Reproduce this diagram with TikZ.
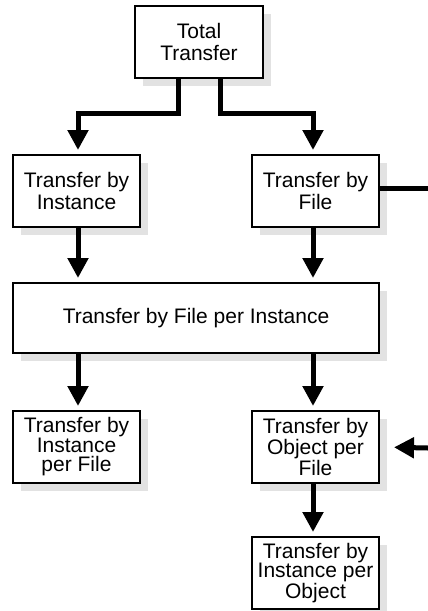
\documentclass[tikz,border=0pt]{standalone}
\usepackage{fontspec}
\setmainfont{Liberation Sans}
\usetikzlibrary{arrows.meta,calc}
\definecolor{shadowgray}{HTML}{E2E2E2}
\begin{document}
\begin{tikzpicture}[x=1pt,y=1pt,
  box/.style={draw=black,line width=2pt,fill=white,align=center,inner sep=0pt,
    minimum width=127pt,minimum height=72pt,
    font=\fontsize{21}{21.5}\selectfont},
  tallbox/.style={box,font=\fontsize{21}{19.5}\selectfont},
  conn/.style={line width=5pt,-{Triangle[width=20pt,length=20pt]},shorten >=4pt},
  plain/.style={line width=5pt}]
\useasboundingbox (0,0) rectangle (428,-611);
% shadows
\foreach \cx/\cy/\w/\h in {199/-42/128/72, 76.5/-191/127/72, 315.5/-191/127/72, 196/-318/366/70, 76.5/-447/127/72, 315.5/-447/127/72, 315.5/-573/127/72}{
  \fill[shadowgray] (\cx-\w/2+8,\cy-\h/2-8) rectangle (\cx+\w/2+8,\cy+\h/2-8);
}
\node[box,minimum width=128pt] (tot) at (199,-42) {Total\\Transfer};
\node[box] (inst) at (76.5,-191) {Transfer by\\Instance};
\node[box] (file) at (315.5,-191) {Transfer by\\File};
\node[box,minimum width=366pt,minimum height=70pt] (fpi) at (196,-318) {Transfer by File per Instance};
\node[tallbox] (ipf) at (76.5,-447) {Transfer by\\Instance\\per File};
\node[tallbox] (opf) at (315.5,-447) {Transfer by\\Object per\\File};
\node[tallbox] (ipo) at (315.5,-573) {Transfer by\\Instance per\\Object};
\coordinate (outR) at (428,-188);
\coordinate (inR) at (428,-448);
\draw[conn] ([xshift=-21pt,yshift=1pt]tot.south) -- ++(0,-35) -| ([xshift=1.5pt]inst.north);
\draw[conn] ([xshift=21pt,yshift=1pt]tot.south) -- ++(0,-35) -| ([xshift=-2.5pt]file.north);
\draw[conn] ([xshift=1.5pt]inst.south) -- ([xshift=1.5pt]fpi.north -| inst.north);
\draw[conn] ([xshift=-2.5pt]file.south) -- ([xshift=-2.5pt]fpi.north -| file.north);
\draw[conn] ([xshift=1.5pt]fpi.south -| ipf.north) -- ([xshift=1.5pt]ipf.north);
\draw[conn] ([xshift=-2.5pt]fpi.south -| opf.north) -- ([xshift=-2.5pt]opf.north);
\draw[conn] ([xshift=-2.5pt]opf.south) -- ([xshift=-2.5pt]ipo.north);
\draw[plain] ([yshift=3pt]file.east) -- (outR);
\draw[conn,shorten >=14pt] (inR) -- (opf.east);
\end{tikzpicture}
\end{document}
